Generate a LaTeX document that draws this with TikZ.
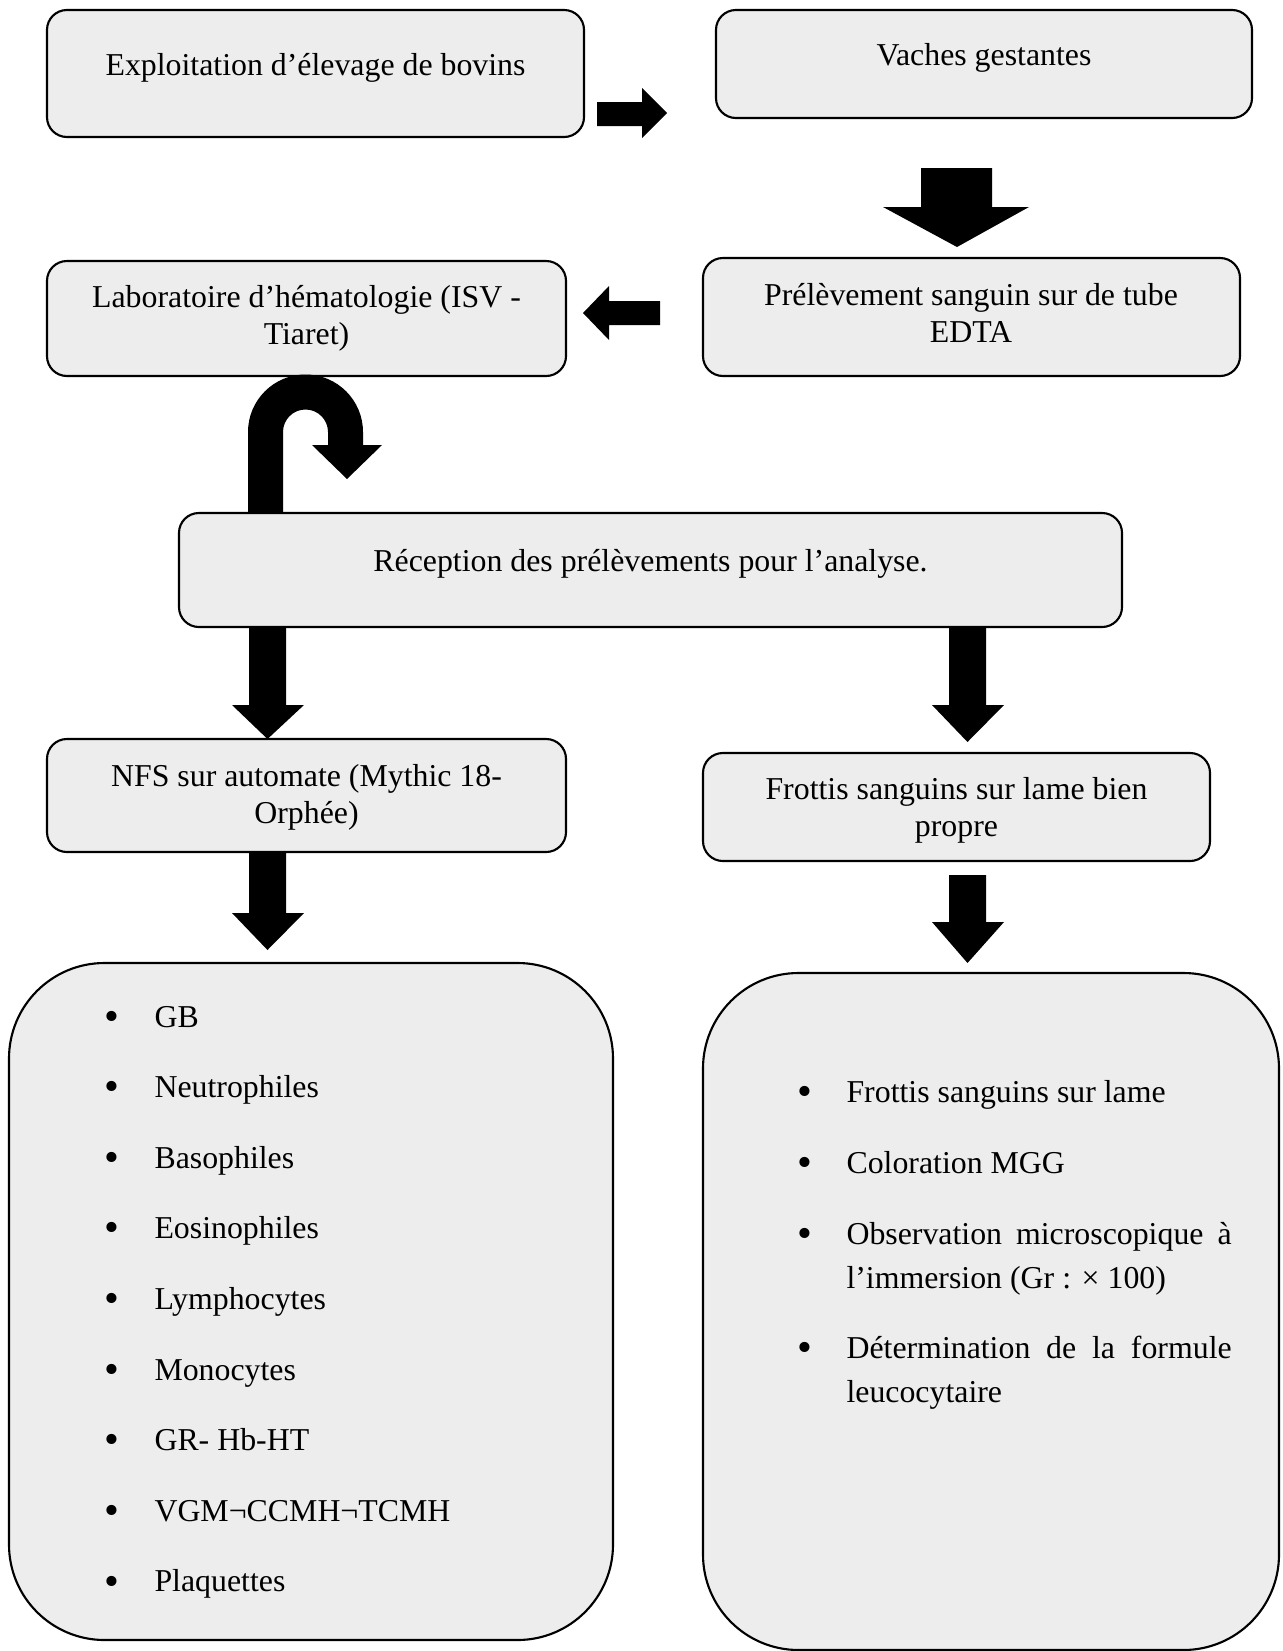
\documentclass[tikz,border=0pt]{standalone}
\usepackage{fontspec}
\setmainfont{Liberation Serif}
\usepackage{tikz}
\usetikzlibrary{positioning,fit}
\definecolor{FondGris}{RGB}{237,237,237}
\tikzset{
    boite/.style={rectangle, draw=black, fill=FondGris, line width=0.8pt, rounded corners=7.5pt, inner sep=0pt},
    grandeboite/.style={boite, rounded corners=36pt},
    texte/.style={font=\fontsize{12}{13.6}\selectfont, inner sep=0pt, align=center},
    puce/.style={font=\fontsize{16}{16}\selectfont, inner sep=0pt, anchor=base, yshift=-1.2pt},
    fleche/.style={fill=black, draw=none}
}

\begin{document}
\begin{tikzpicture}[x=0.377pt, y=-0.377pt]
    \useasboundingbox (0,0) rectangle (1282,1651);

    % --- LES BOITES ---
    \node[boite, fit={(47,10) (584,137)}] (elevage) {};
    \node[boite, fit={(716,10) (1252,118)}] (vaches) {};
    \node[boite, fit={(703,258) (1240,376)}] (prelevement) {};
    \node[boite, fit={(47,261) (566,376)}] (labo) {};
    \node[boite, fit={(179,513) (1122,627)}] (reception) {};
    \node[boite, fit={(47,739) (566,852)}] (nfs) {};
    \node[boite, fit={(703,753) (1210,861)}] (frottis) {};
    \node[grandeboite, fit={(9,963) (613,1640)}] (parametres) {};
    \node[grandeboite, fit={(703,973) (1279,1650)}] (etapes) {};

    % --- LES TEXTES ---
    \node[texte, anchor=base] (elevageT) at (315.5,75) {Exploitation d’élevage de bovins};
    \node[texte, anchor=base] (vachesT) at (984,65) {Vaches gestantes};
    \node[texte, anchor=base] (prelevementT) at (971,342) {Prélèvement sanguin sur de tube\\EDTA};
    \node[texte, anchor=base] (laboT) at (306.5,344) {Laboratoire d’hématologie (ISV -\\Tiaret)};
    \node[texte, anchor=base] (receptionT) at (650.5,571) {Réception des prélèvements pour l’analyse.};
    \node[texte, anchor=base] (nfsT) at (306.5,823) {NFS sur automate (Mythic 18-\\Orphée)};
    \node[texte, anchor=base] (frottisT) at (956.5,836) {Frottis sanguins sur lame bien\\propre};

    % --- LISTE DE GAUCHE ---
    \foreach \element [count=\i] in {GB, Neutrophiles, Basophiles, Eosinophiles, Lymphocytes, Monocytes, GR- Hb-HT, VGM¬CCMH¬TCMH, Plaquettes} {
        \node[puce] (pg\i) at (112, {1027+70.6*(\i-1)}) {•};
        \node[texte, anchor=base west] (g\i) at (154, {1027+70.6*(\i-1)}) {\element};
    }

    % --- LISTE DE DROITE ---
    \node[puce] (pd1) at (805,1102) {•};
    \node[texte, anchor=base west] (d1) at (846,1102) {Frottis sanguins sur lame};
    \node[puce] (pd2) at (805,1173) {•};
    \node[texte, anchor=base west] (d2) at (846,1173) {Coloration MGG};
    \node[puce] (pd3) at (805,1244) {•};
    \node[texte, anchor=base west, text width=145.2pt, align=justify, font=\fontsize{12}{16.6}\selectfont] (d3) at (846,1244) {Observation microscopique à l’immersion (Gr : × 100)};
    \node[puce] (pd4) at (805,1358) {•};
    \node[texte, anchor=base west, text width=145.2pt, align=justify, font=\fontsize{12}{16.6}\selectfont] (d4) at (846,1358) {Détermination de la formule leucocytaire};

    % --- LES FLECHES ---
    \fill[fleche] (597,102) -- (642,102) -- (642,88) -- (667,113) -- (642,138) -- (642,126) -- (597,126) -- cycle;
    \fill[fleche] (921,168) -- (992,168) -- (992,207) -- (1029,207) -- (957,247) -- (883,207) -- (921,207) -- cycle;
    \fill[fleche] (660,301) -- (609,301) -- (609,286) -- (583,313) -- (609,340) -- (609,325) -- (660,325) -- cycle;
    \foreach \xa/\ya/\yb/\yc in {249/627/705/739, 949/627/705/742, 249/853/913/950, 949/875/922/963} {
        \fill[fleche] (\xa,\ya) -- (\xa+37,\ya) -- (\xa+37,\yb) -- (\xa+55,\yb) -- (\xa+18.5,\yc) -- (\xa-17,\yb) -- (\xa,\yb) -- cycle;
    }
    % fleche en demi-tour
    \fill[fleche] (248,513) -- (248,432) arc[start angle=180, end angle=360, radius=57.5]
        -- (363,445) -- (382,445) -- (347,479) -- (312,445) -- (328,445) -- (328,432)
        arc[start angle=0, end angle=-180, radius=22.5] -- (283,513) -- cycle;
\end{tikzpicture}
\end{document}
